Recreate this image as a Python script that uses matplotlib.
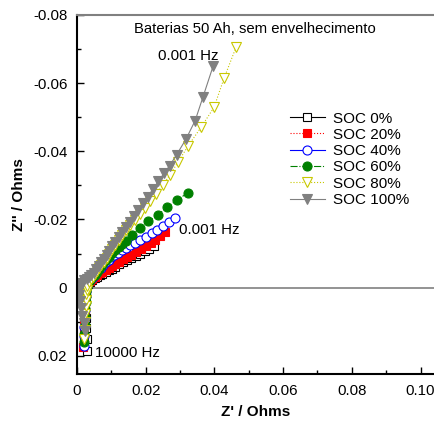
import matplotlib
matplotlib.use("Agg")
import matplotlib.pyplot as plt

plt.rcParams["font.family"] = ["Liberation Sans", "DejaVu Sans"]

# Z' (x) and Z'' (y) per state of charge, from 10000 Hz down to 0.001 Hz
soc0_x = [0.0030, 0.0028, 0.0026, 0.0025, 0.0024, 0.0024, 0.0024, 0.0025, 0.0027, 0.0031,
          0.0037, 0.0044, 0.0051, 0.0058, 0.0066, 0.0074, 0.0083, 0.0092, 0.0102, 0.0112,
          0.0123, 0.0134, 0.0146, 0.0158, 0.0171, 0.0184, 0.0197, 0.0210, 0.0223]
soc0_y = [0.0185, 0.0150, 0.0118, 0.0088, 0.0062, 0.0040, 0.0021, 0.0007, -0.0004, -0.0012,
          -0.0018, -0.0023, -0.0028, -0.0032, -0.0037, -0.0041, -0.0046, -0.0051, -0.0056, -0.0062,
          -0.0068, -0.0074, -0.0080, -0.0086, -0.0093, -0.0100, -0.0107, -0.0114, -0.0122]

soc20_x = [0.0018, 0.0019, 0.0020, 0.0021, 0.0022, 0.0023, 0.0024, 0.0025, 0.0027, 0.0031,
           0.0037, 0.0044, 0.0051, 0.0058, 0.0066, 0.0074, 0.0083, 0.0092, 0.0102, 0.0112,
           0.0123, 0.0134, 0.0146, 0.0158, 0.0171, 0.0185, 0.0200, 0.0214, 0.0228, 0.0242, 0.0256]
soc20_y = [0.0175, 0.0148, 0.0120, 0.0093, 0.0068, 0.0045, 0.0025, 0.0009, -0.0003, -0.0013,
           -0.0020, -0.0026, -0.0032, -0.0037, -0.0042, -0.0047, -0.0052, -0.0058, -0.0064, -0.0070,
           -0.0076, -0.0083, -0.0090, -0.0097, -0.0105, -0.0113, -0.0122, -0.0131, -0.0141, -0.0152, -0.0163]

soc40_x = [0.0019, 0.0020, 0.0021, 0.0022, 0.0023, 0.0024, 0.0025, 0.0026, 0.0028, 0.0032,
           0.0038, 0.0044, 0.0050, 0.0056, 0.0062, 0.0069, 0.0076, 0.0084, 0.0092, 0.0100,
           0.0109, 0.0119, 0.0130, 0.0142, 0.0155, 0.0169, 0.0184, 0.0200, 0.0217, 0.0234,
           0.0251, 0.0268, 0.0285]
soc40_y = [0.0170, 0.0143, 0.0116, 0.0090, 0.0066, 0.0044, 0.0025, 0.0009, -0.0004, -0.0014,
           -0.0021, -0.0028, -0.0035, -0.0043, -0.0051, -0.0059, -0.0067, -0.0075, -0.0082, -0.0089,
           -0.0096, -0.0103, -0.0110, -0.0117, -0.0124, -0.0132, -0.0140, -0.0149, -0.0159, -0.0169,
           -0.0180, -0.0192, -0.0204]

soc60_x = [0.0020, 0.0021, 0.0022, 0.0023, 0.0024, 0.0025, 0.0026, 0.0027, 0.0029, 0.0033,
           0.0039, 0.0045, 0.0051, 0.0057, 0.0063, 0.0070, 0.0077, 0.0085, 0.0093, 0.0102,
           0.0111, 0.0121, 0.0131, 0.0142, 0.0160, 0.0183, 0.0207, 0.0236, 0.0262, 0.0291, 0.0323]
soc60_y = [0.0160, 0.0135, 0.0110, 0.0086, 0.0063, 0.0043, 0.0025, 0.0010, -0.0003, -0.0014,
           -0.0022, -0.0030, -0.0038, -0.0046, -0.0054, -0.0063, -0.0072, -0.0082, -0.0091, -0.0101,
           -0.0110, -0.0119, -0.0128, -0.0137, -0.0155, -0.0175, -0.0194, -0.0214, -0.0236, -0.0257, -0.0278]

soc80_x = [0.0021, 0.0022, 0.0023, 0.0024, 0.0025, 0.0026, 0.0027, 0.0028, 0.0030, 0.0034,
           0.0040, 0.0046, 0.0052, 0.0058, 0.0064, 0.0071, 0.0078, 0.0086, 0.0094, 0.0103,
           0.0112, 0.0122, 0.0132, 0.0143, 0.0155, 0.0168, 0.0182, 0.0197, 0.0213, 0.0231,
           0.0250, 0.0270, 0.0294, 0.0323, 0.0361, 0.0399, 0.0428, 0.0463]
soc80_y = [0.0150, 0.0125, 0.0100, 0.0077, 0.0055, 0.0036, 0.0019, 0.0006, -0.0006, -0.0016,
           -0.0024, -0.0032, -0.0040, -0.0048, -0.0057, -0.0066, -0.0076, -0.0087, -0.0099, -0.0112,
           -0.0125, -0.0139, -0.0153, -0.0168, -0.0183, -0.0199, -0.0216, -0.0234, -0.0254, -0.0276,
           -0.0301, -0.0330, -0.0368, -0.0415, -0.0470, -0.0529, -0.0614, -0.0705]

soc100_x = [0.0023, 0.0020, 0.0016, 0.0012, 0.0009, 0.0007, 0.0007, 0.0010, 0.0015, 0.0021,
            0.0028, 0.0035, 0.0042, 0.0049, 0.0056, 0.0063, 0.0070, 0.0078, 0.0086, 0.0094,
            0.0103, 0.0112, 0.0122, 0.0132, 0.0143, 0.0154, 0.0166, 0.0179, 0.0192, 0.0206,
            0.0221, 0.0237, 0.0253, 0.0270, 0.0290, 0.0317, 0.0344, 0.0367, 0.0396]
soc100_y = [0.0128, 0.0105, 0.0082, 0.0060, 0.0040, 0.0022, 0.0007, -0.0006, -0.0015, -0.0021,
            -0.0026, -0.0030, -0.0036, -0.0044, -0.0054, -0.0064, -0.0074, -0.0085, -0.0097, -0.0108,
            -0.0121, -0.0134, -0.0148, -0.0162, -0.0178, -0.0193, -0.0210, -0.0228, -0.0247, -0.0267,
            -0.0289, -0.0312, -0.0335, -0.0358, -0.0390, -0.0435, -0.0490, -0.0560, -0.0649]

labels = ["SOC 0%", "SOC 20%", "SOC 40%", "SOC 60%", "SOC 80%", "SOC 100%"]
xs = [soc0_x, soc20_x, soc40_x, soc60_x, soc80_x, soc100_x]
ys = [soc0_y, soc20_y, soc40_y, soc60_y, soc80_y, soc100_y]

styles = [
    dict(color="black", ls="-", marker="s", mfc="white", mec="black", ms=6),
    dict(color="red", ls=":", marker="s", mfc="red", mec="red", ms=6),
    dict(color="blue", ls="-", marker="o", mfc="white", mec="blue", ms=6.5),
    dict(color="green", ls="-.", marker="o", mfc="green", mec="green", ms=6.5),
    dict(color="#c8c800", ls=":", marker="v", mfc="white", mec="#c8c800", ms=7),
    dict(color="#808080", ls="-", marker="v", mfc="#808080", mec="#808080", ms=7),
]

fig = plt.figure(figsize=(4.35, 4.23), dpi=100)
ax = fig.add_axes([0.177, 0.116, 0.823, 0.849])

ax.axhline(0, color="#808080", lw=1.2, zorder=1)

for x, y, lab, st in zip(xs, ys, labels, styles):
    ax.plot(x, y, label=lab, lw=0.8, mew=0.8, **st)

ax.set_xlim(0, 0.1042)
ax.set_ylim(0.0253, -0.08)

ax.set_xticks([0, 0.02, 0.04, 0.06, 0.08, 0.10])
ax.set_xticklabels(["0", "0.02", "0.04", "0.06", "0.08", "0.10"])
ax.set_xticks([0.01, 0.03, 0.05, 0.07, 0.09], minor=True)
ax.set_yticks([-0.08, -0.06, -0.04, -0.02, 0, 0.02])
ax.set_yticklabels(["-0.08", "-0.06", "-0.04", "-0.02", "0", "0.02"])
ax.set_yticks([-0.07, -0.05, -0.03, -0.01, 0.01], minor=True)
ax.tick_params(which="both", direction="in", labelsize=10.8, width=1)
ax.tick_params(which="major", length=5, pad=7)
ax.tick_params(which="minor", length=3)

ax.spines["right"].set_visible(False)
ax.spines["top"].set_color("#808080")
for s in ["left", "bottom", "top"]:
    ax.spines[s].set_linewidth(1.5)

ax.set_xlabel("Z' / Ohms", fontsize=11, fontweight="bold", labelpad=5)
ax.set_ylabel("Z'' / Ohms", fontsize=11, fontweight="bold", labelpad=5)

ax.text(0.0518, -0.0758, "Baterias 50 Ah, sem envelhecimento", fontsize=10.7, ha="center", va="center")
ax.text(0.0323, -0.0678, "0.001 Hz", fontsize=10.8, ha="center", va="center")
ax.text(0.0297, -0.0168, "0.001 Hz", fontsize=10.8, ha="left", va="center")
ax.text(0.0052, 0.0193, "10000 Hz", fontsize=10.8, ha="left", va="center")

ax.legend(loc="upper left", bbox_to_anchor=(0.556, 0.769), frameon=False, fontsize=11,
          handlelength=2.3, labelspacing=0.15, handletextpad=0.5)

fig.savefig("out.png", dpi=100)
